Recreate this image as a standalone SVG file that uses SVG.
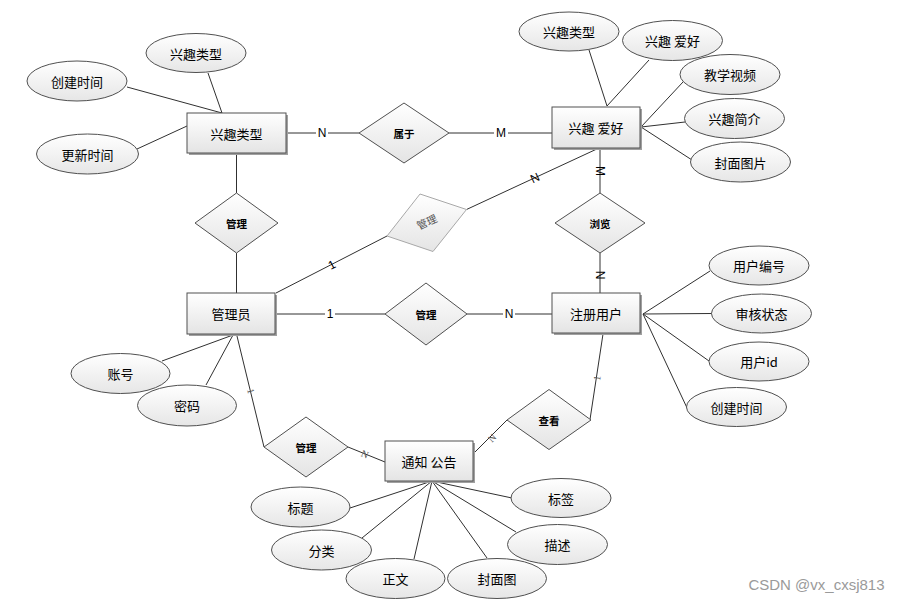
<svg xmlns="http://www.w3.org/2000/svg" width="900" height="601" viewBox="0 0 900 601">
<defs>
<linearGradient id="g" x1="0" y1="0" x2="0" y2="1">
<stop offset="0" stop-color="#ffffff"/>
<stop offset="1" stop-color="#e4e4e4"/>
</linearGradient>
<linearGradient id="ge" x1="0" y1="0" x2="0" y2="1">
<stop offset="0" stop-color="#ffffff"/>
<stop offset="1" stop-color="#e6e6e6"/>
</linearGradient>
</defs>
<style>
text{font-family:"Microsoft YaHei","Noto Sans CJK SC",sans-serif;fill:#000;text-anchor:middle;dominant-baseline:central}
.ent rect.b{fill:url(#g);stroke:#505050;stroke-width:1}
.ent rect.s{fill:#a0a0a0;stroke:none}
.ent text{font-size:13px}
.att ellipse{fill:url(#ge);stroke:#505050;stroke-width:1}
.att text{font-size:13px}
.rel polygon{fill:url(#g);stroke:#505050;stroke-width:1}
.rel text{font-size:10.5px;font-weight:bold}
.conn line,.conn polyline{stroke:#303030;stroke-width:1;fill:none}
.lab{font-family:"Liberation Sans",Arial,sans-serif;font-size:12px;fill:#000}
.labg{font-family:"Liberation Serif",serif;font-size:10px;fill:#555}
</style>
<rect width="900" height="601" fill="#ffffff"/>

<g id="connectors" class="conn">
<!-- 兴趣类型 attributes -->
<line x1="208" y1="73" x2="222" y2="113"/>
<line x1="127" y1="87" x2="222" y2="113"/>
<line x1="137" y1="149" x2="187" y2="126"/>
<!-- 兴趣类型 - 属于 - 兴趣爱好 -->
<line x1="286" y1="133" x2="359" y2="133"/>
<line x1="449" y1="133" x2="552" y2="133"/>
<!-- 兴趣类型 - 管理 - 管理员 -->
<line x1="236.5" y1="153" x2="236.5" y2="193"/>
<line x1="236.5" y1="253" x2="236.5" y2="293"/>
<!-- 管理员 - 管理(rotated) - 兴趣爱好 -->
<line x1="276" y1="293" x2="387" y2="236"/>
<line x1="466.5" y1="209.5" x2="599" y2="148"/>
<!-- 兴趣爱好 - 浏览 - 注册用户 -->
<line x1="600" y1="148" x2="600" y2="193"/>
<line x1="600" y1="253" x2="600" y2="293"/>
<!-- 管理员 - 管理 - 注册用户 -->
<line x1="276" y1="314" x2="385" y2="314"/>
<line x1="467" y1="314" x2="552" y2="314"/>
<!-- 兴趣爱好 attributes -->
<line x1="589" y1="50" x2="607" y2="106"/>
<line x1="649" y1="60" x2="607" y2="106"/>
<line x1="683" y1="82" x2="641" y2="127"/>
<line x1="685" y1="122" x2="641" y2="127"/>
<line x1="692" y1="160" x2="641" y2="127"/>
<!-- 注册用户 attributes -->
<line x1="710" y1="271" x2="643" y2="314"/>
<line x1="712" y1="313.5" x2="643" y2="314"/>
<line x1="709" y1="361" x2="643" y2="314"/>
<line x1="688" y1="410" x2="643" y2="314"/>
<!-- 注册用户 - 查看 - 通知公告 -->
<line x1="603" y1="334" x2="590" y2="419.5"/>
<line x1="507" y1="420" x2="473" y2="454"/>
<!-- 管理员 - 管理 - 通知公告 -->
<line x1="236.5" y1="334" x2="264" y2="447"/>
<line x1="348" y1="447" x2="385" y2="462"/>
<!-- 管理员 attributes -->
<line x1="162" y1="361" x2="233" y2="335"/>
<line x1="206" y1="385" x2="233" y2="335"/>
<!-- 通知公告 attributes -->
<line x1="350" y1="508" x2="432" y2="481"/>
<line x1="362" y1="538" x2="432" y2="481"/>
<line x1="414" y1="559" x2="432" y2="481"/>
<line x1="487" y1="558" x2="432" y2="481"/>
<line x1="516" y1="532" x2="432" y2="481"/>
<line x1="512" y1="498" x2="432" y2="481"/>
</g>

<g id="cardinality">
<rect x="316" y="126" width="12" height="14" fill="#fff"/>
<text class="lab" x="322" y="133">N</text>
<rect x="494" y="126" width="14" height="14" fill="#fff"/>
<text class="lab" x="501" y="133">M</text>
<rect x="325" y="307" width="10" height="14" fill="#fff"/>
<text class="lab" x="330" y="314">1</text>
<rect x="503" y="307" width="12" height="14" fill="#fff"/>
<text class="lab" x="509" y="314">N</text>
<text class="lab" x="332" y="265" transform="rotate(-27 332 265)">1</text>
<text class="lab" x="535" y="178" transform="rotate(-25 535 178)">N</text>
<text class="lab" x="600" y="171" transform="rotate(90 600 171)">M</text>
<text class="lab" x="600" y="275" transform="rotate(90 600 275)">N</text>
<text class="labg" x="251" y="391" transform="rotate(76 251 391)">1</text>
<text class="labg" x="365" y="454" transform="rotate(22 365 454)">N</text>
<text class="labg" x="597" y="378" transform="rotate(-81 597 378)">1</text>
<text class="labg" x="492" y="438" transform="rotate(-45 492 438)">N</text>
</g>

<g id="e-xqlx" class="ent"><rect class="s" x="189" y="115" width="99" height="40"/><rect class="b" x="187" y="113" width="99" height="40"/><text x="236.5" y="133">兴趣类型</text></g>
<g id="e-xqah" class="ent"><rect class="s" x="554" y="109" width="88" height="41"/><rect class="b" x="552" y="107" width="88" height="41"/><text x="596" y="127.5">兴趣 爱好</text></g>
<g id="e-gly" class="ent"><rect class="s" x="189" y="295" width="88" height="41"/><rect class="b" x="187" y="293" width="88" height="41"/><text x="231" y="313.5">管理员</text></g>
<g id="e-zcyh" class="ent"><rect class="s" x="554" y="295" width="88" height="40"/><rect class="b" x="552" y="293" width="88" height="40"/><text x="596" y="313">注册用户</text></g>
<g id="e-tzgg" class="ent"><rect class="s" x="387" y="443" width="88" height="40"/><rect class="b" x="385" y="441" width="88" height="40"/><text x="429" y="461">通知 公告</text></g>

<g id="r-shuyu" class="rel"><polygon points="359,133 404,103 449,133 404,163"/><text x="404" y="133">属于</text></g>
<g id="r-guanli1" class="rel"><polygon points="195,223 236.5,193 278,223 236.5,253"/><text x="236.5" y="223">管理</text></g>
<g id="r-guanli2"><polygon points="387,236 420,194 466.5,209.5 433,251.5" fill="url(#g)" stroke="#a8a8a8" stroke-width="1"/><text x="427" y="222.5" transform="rotate(-25 427 222.5)" style="font-size:10.5px;fill:#555;font-family:'Liberation Serif','Noto Sans CJK SC',serif">管理</text></g>
<g id="r-liulan" class="rel"><polygon points="555,223 600,193 645,223 600,253"/><text x="600" y="223">浏览</text></g>
<g id="r-guanli3" class="rel"><polygon points="385,314 426,283 467,314 426,345"/><text x="426" y="314">管理</text></g>
<g id="r-guanli4" class="rel"><polygon points="264,447 306,417 348,447 306,477"/><text x="306" y="447">管理</text></g>
<g id="r-chakan" class="rel"><polygon points="507,420 549,389.5 591,420 549,449.5"/><text x="549" y="420">查看</text></g>

<g id="a-xqlx1" class="att"><ellipse cx="196" cy="53" rx="50" ry="19.5"/><text x="196" y="53">兴趣类型</text></g>
<g id="a-cjsj1" class="att"><ellipse cx="77" cy="81" rx="50" ry="20"/><text x="77" y="81">创建时间</text></g>
<g id="a-gxsj" class="att"><ellipse cx="87.5" cy="154" rx="51" ry="20"/><text x="87.5" y="154">更新时间</text></g>
<g id="a-xqlx2" class="att"><ellipse cx="569" cy="31.5" rx="50" ry="19.5"/><text x="569" y="31.5">兴趣类型</text></g>
<g id="a-xqah" class="att"><ellipse cx="672.5" cy="40.5" rx="50" ry="20"/><text x="672.5" y="40.5">兴趣 爱好</text></g>
<g id="a-jxsp" class="att"><ellipse cx="730" cy="74.5" rx="50" ry="20"/><text x="730" y="74.5">教学视频</text></g>
<g id="a-xqjj" class="att"><ellipse cx="734.5" cy="118.5" rx="50" ry="20"/><text x="734.5" y="118.5">兴趣简介</text></g>
<g id="a-fmtp" class="att"><ellipse cx="740.5" cy="162" rx="50" ry="20"/><text x="740.5" y="162">封面图片</text></g>
<g id="a-yhbh" class="att"><ellipse cx="759" cy="265.5" rx="50" ry="19.5"/><text x="759" y="265.5">用户编号</text></g>
<g id="a-shzt" class="att"><ellipse cx="761.5" cy="313.5" rx="50" ry="19.5"/><text x="761.5" y="313.5">审核状态</text></g>
<g id="a-yhid" class="att"><ellipse cx="759" cy="361.5" rx="50" ry="19.5"/><text x="759" y="361.5">用户id</text></g>
<g id="a-cjsj2" class="att"><ellipse cx="736.5" cy="407" rx="50" ry="19.5"/><text x="736.5" y="407">创建时间</text></g>
<g id="a-zh" class="att"><ellipse cx="120.5" cy="373.5" rx="49.5" ry="20"/><text x="120.5" y="373.5">账号</text></g>
<g id="a-mm" class="att"><ellipse cx="187" cy="405.5" rx="49.5" ry="20.5"/><text x="187" y="405.5">密码</text></g>
<g id="a-bt" class="att"><ellipse cx="300.5" cy="507" rx="49.5" ry="20"/><text x="300.5" y="507">标题</text></g>
<g id="a-fl" class="att"><ellipse cx="321.5" cy="550" rx="50" ry="20"/><text x="321.5" y="550">分类</text></g>
<g id="a-zw" class="att"><ellipse cx="395.5" cy="578.5" rx="49.5" ry="20"/><text x="395.5" y="578.5">正文</text></g>
<g id="a-fmt" class="att"><ellipse cx="497" cy="578.5" rx="49.5" ry="20"/><text x="497" y="578.5">封面图</text></g>
<g id="a-ms" class="att"><ellipse cx="557.5" cy="544.5" rx="50" ry="20"/><text x="557.5" y="544.5">描述</text></g>
<g id="a-bq" class="att"><ellipse cx="561" cy="498" rx="50" ry="19.5"/><text x="561" y="498">标签</text></g>

<text x="816.5" y="584" style="font-family:'Liberation Sans',Arial,sans-serif;font-size:15px;fill:#9a9a9a">CSDN @vx_cxsj813</text>
</svg>
